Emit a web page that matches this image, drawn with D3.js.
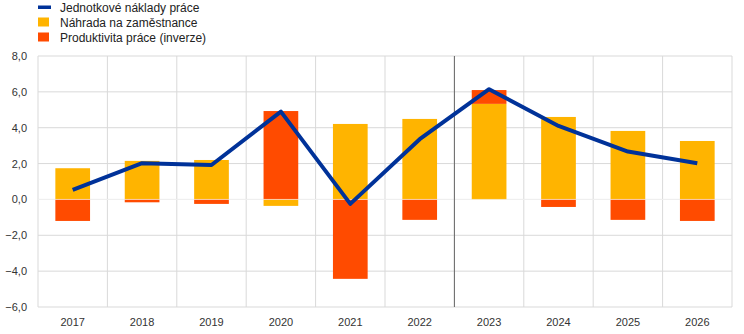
<!DOCTYPE html>
<html>
<head>
<meta charset="utf-8">
<script src="https://cdn.jsdelivr.net/npm/d3@7"></script>
<style>
  body { margin: 0; background: #fff; }
  svg { display: block; font-family: Arial, "Liberation Sans", sans-serif; }
</style>
</head>
<body>
<svg id="chart" width="744" height="334"></svg>
<script>
// data
var years = ["2017", "2018", "2019", "2020", "2021", "2022", "2023", "2024", "2025", "2026"];
var compensation = [1.74, 2.15, 2.2, -0.36, 4.21, 4.49, 5.33, 4.6, 3.82, 3.26];   // Náhrada na zaměstnance
var productivity = [-1.2, -0.16, -0.25, 4.93, -4.43, -1.14, 0.77, -0.42, -1.14, -1.2]; // Produktivita práce (inverze)
var ulc = [0.53, 2.02, 1.92, 4.9, -0.25, 3.36, 6.15, 4.1, 2.67, 2.02];           // Jednotkové náklady práce
var yTicks = [-6, -4, -2, 0, 2, 4, 6, 8];
var splitAfter = "2022";

var colors = { ulc: "#003299", comp: "#ffb400", prod: "#ff4b00", grid: "#d9d9d9", text: "#333333" };

var svg = d3.select("#chart");
var margin = { left: 38, right: 12, top: 56, bottom: 27 };
var W = 744, H = 334;

var x = d3.scaleBand().domain(years).range([margin.left, W - margin.right]).paddingInner(0).paddingOuter(0);
var y = d3.scaleLinear().domain([-6, 8]).range([H - margin.bottom, margin.top]);
var fmt = function (d) { return d3.format(".1f")(d).replace(".", ","); };

// grid
var grid = svg.append("g");
grid.selectAll("line.h").data(yTicks).enter().append("line")
    .attr("x1", x.range()[0]).attr("x2", x.range()[1])
    .attr("y1", function (d) { return y(d); }).attr("y2", function (d) { return y(d); })
    .attr("stroke", colors.grid).attr("stroke-width", 1);
var vlines = years.map(function (d) { return x(d); }).concat([x.range()[1]]);
grid.selectAll("line.v").data(vlines).enter().append("line")
    .attr("x1", function (d) { return d; }).attr("x2", function (d) { return d; })
    .attr("y1", y(8)).attr("y2", y(-6))
    .attr("stroke", colors.grid).attr("stroke-width", 1);

// stacked bars: positives stack up from 0, negatives down from 0
var bw = x.bandwidth() * 0.5;
var bars = [];
years.forEach(function (yr, i) {
    var pos = 0, neg = 0;
    [["comp", compensation[i]], ["prod", productivity[i]]].forEach(function (s) {
        var v = s[1], y0, y1;
        if (v >= 0) { y0 = pos; y1 = pos + v; pos = y1; }
        else { y0 = neg; y1 = neg + v; neg = y1; }
        bars.push({ year: yr, key: s[0], y0: y0, y1: y1 });
    });
});
svg.append("g").selectAll("rect").data(bars).enter().append("rect")
    .attr("x", function (d) { return x(d.year) + (x.bandwidth() - bw) / 2; })
    .attr("width", bw)
    .attr("y", function (d) { return y(Math.max(d.y0, d.y1)); })
    .attr("height", function (d) { return Math.abs(y(d.y0) - y(d.y1)); })
    .attr("fill", function (d) { return colors[d.key]; });

// zero line over the bars
svg.append("line")
    .attr("x1", x.range()[0]).attr("x2", x.range()[1])
    .attr("y1", y(0)).attr("y2", y(0))
    .attr("stroke", "#ffffff").attr("stroke-opacity", 0.6).attr("stroke-width", 1);

// projection split
var sx = x(splitAfter) + x.bandwidth();
svg.append("line")
    .attr("x1", sx).attr("x2", sx).attr("y1", y(8)).attr("y2", y(-6))
    .attr("stroke", "#666666").attr("stroke-width", 1);

// line
var line = d3.line()
    .x(function (d, i) { return x(years[i]) + x.bandwidth() / 2; })
    .y(function (d) { return y(d); });
svg.append("path").datum(ulc)
    .attr("d", line).attr("fill", "none")
    .attr("stroke", colors.ulc).attr("stroke-width", 4)
    .attr("stroke-linejoin", "round");

// axes labels
svg.append("g").selectAll("text").data(yTicks).enter().append("text")
    .attr("x", 27).attr("y", function (d) { return y(d) + 4; })
    .attr("text-anchor", "end").attr("font-size", 11).attr("fill", colors.text)
    .text(fmt);
svg.append("g").selectAll("text").data(years).enter().append("text")
    .attr("x", function (d) { return x(d) + x.bandwidth() / 2; })
    .attr("y", 326).attr("text-anchor", "middle").attr("font-size", 11).attr("fill", colors.text)
    .text(function (d) { return d; });

// legend
var legend = [
    { label: "Jednotkové náklady práce", key: "ulc", type: "line" },
    { label: "Náhrada na zaměstnance", key: "comp", type: "rect" },
    { label: "Produktivita práce (inverze)", key: "prod", type: "rect" }
];
var lg = svg.append("g").selectAll("g").data(legend).enter().append("g")
    .attr("transform", function (d, i) { return "translate(38," + (7 + i * 15) + ")"; });
lg.filter(function (d) { return d.type === "line"; }).append("rect")
    .attr("x", 0).attr("y", -1.5).attr("width", 13).attr("height", 3.5)
    .attr("fill", function (d) { return colors[d.key]; });
lg.filter(function (d) { return d.type === "rect"; }).append("rect")
    .attr("x", 0).attr("y", -4.5).attr("width", 11).attr("height", 9)
    .attr("fill", function (d) { return colors[d.key]; });
lg.append("text").attr("x", 22).attr("y", 4.5)
    .attr("font-size", 12).attr("fill", "#222")
    .text(function (d) { return d.label; });
</script>
</body>
</html>
